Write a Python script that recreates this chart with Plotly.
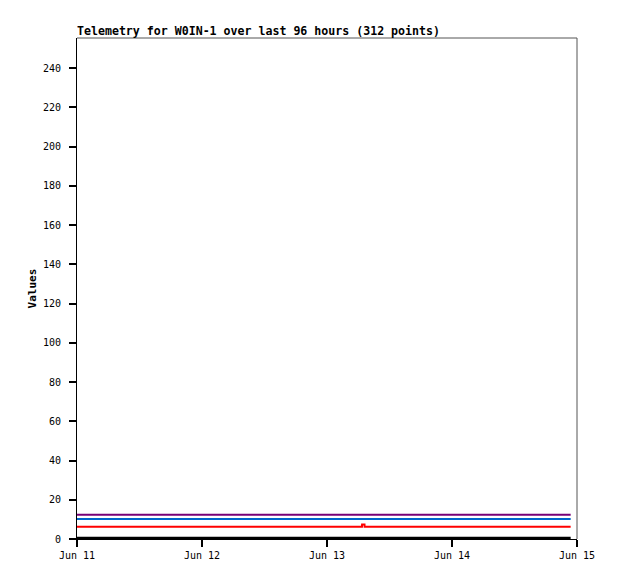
import plotly.graph_objects as go

# telemetry readings (key points)
times = ["2024-06-11 00:00", "2024-06-13 06:43", "2024-06-13 06:44",
         "2024-06-13 07:12", "2024-06-13 07:13", "2024-06-14 22:47"]
purple_vals = [12.4, 12.4, 12.4, 12.4, 12.4, 12.4]
blue_vals = [10.2, 10.2, 10.2, 10.2, 10.2, 10.2]
red_vals = [6.2, 6.2, 7.4, 7.4, 6.2, 6.2]
black_vals = [0.4, 0.4, 0.4, 0.4, 0.4, 0.4]

series = [
    ("black", black_vals, "#000000", 3),
    ("red", red_vals, "#ff0000", 2),
    ("blue", blue_vals, "#0066cc", 2),
    ("purple", purple_vals, "#770077", 2),
]

fig = go.Figure()
for name, vals, color, w in series:
    fig.add_trace(go.Scatter(x=times, y=vals, mode="lines", name=name,
                             line=dict(color=color, width=w)))

mono = "DejaVu Sans Mono"
fig.update_layout(
    width=610, height=571,
    margin=dict(l=69, r=41, t=30, b=40),
    plot_bgcolor="white", paper_bgcolor="white",
    showlegend=False,
    font=dict(family=mono, size=10, color="black"),
    title=dict(text="<b>Telemetry for W0IN-1 over last 96 hours (312 points)</b>",
               x=69/610, xanchor="left", y=1-27/571, yanchor="bottom",
               font=dict(family=mono, size=11.6)),
    xaxis=dict(range=["2024-06-11 00:00", "2024-06-15 00:00"],
               tickvals=["2024-06-11", "2024-06-12", "2024-06-13", "2024-06-14", "2024-06-15"],
               ticktext=["Jun 11", "Jun 12", "Jun 13", "Jun 14", "Jun 15"],
               ticks="outside", ticklen=7, tickwidth=1.5, tickcolor="#000000", showgrid=False,
               showline=True, linecolor="black", linewidth=1,
               zeroline=False),
    yaxis=dict(range=[0, 255.3], tick0=0, dtick=20, ticksuffix=" ",
               ticks="outside", ticklen=7, tickwidth=1.5, tickcolor="#000000", showgrid=False,
               showline=True, linecolor="black", linewidth=1,
               zeroline=False,
               title=dict(text="<b>Values</b>", font=dict(family=mono, size=11), standoff=4)),
    shapes=[
        dict(type="line", xref="paper", yref="paper", x0=0, x1=1, y0=1, y1=1,
             line=dict(color="#555555", width=1)),
        dict(type="line", xref="paper", yref="paper", x0=1, x1=1, y0=0, y1=1,
             line=dict(color="#555555", width=1)),
    ],
)

fig.write_html("out.html")
